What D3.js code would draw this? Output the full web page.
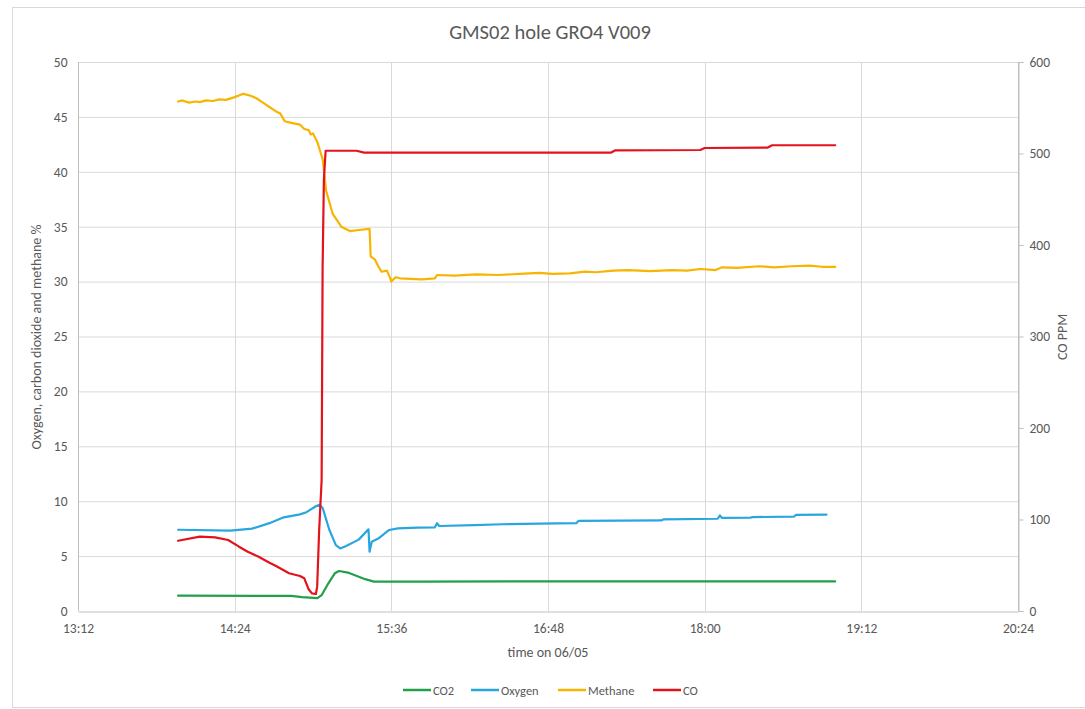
<!DOCTYPE html>
<html><head><meta charset="utf-8">
<script src="https://cdn.jsdelivr.net/npm/d3@7"></script>
<style>
body{margin:0;background:#fff;}
svg{display:block;}
text{font-family:Carlito,"Liberation Sans Narrow","Liberation Sans",sans-serif;fill:#595959;}
</style></head><body>
<svg id="chart" width="1085" height="709"></svg>
<script>
const titleText = "GMS02 hole GRO4 V009";
const xTickLabels = ["13:12","14:24","15:36","16:48","18:00","19:12","20:24"];
const leftTicks = [0,5,10,15,20,25,30,35,40,45,50];
const rightTicks = [0,100,200,300,400,500,600];
const seriesNames = ["CO2","Oxygen","Methane","CO"];
const seriesColors = ["#21a04a","#2aa6df","#f7b500","#e3131b"];

const co2 = [["13:58:00",1.4],["14:50:00",1.38],["14:55:00",1.27],["15:02:00",1.18],["15:04:00",1.45],["15:07:00",2.5],["15:10:00",3.43],["15:12:00",3.64],["15:16:00",3.5],["15:24:00",2.9],["15:28:00",2.68],["15:50:00",2.68],["16:50:00",2.7],["18:00:00",2.7],["19:00:00",2.7]];

const oxygen = [["13:58:00",7.4],["14:22:00",7.32],["14:32:00",7.5],["14:40:00",8.0],["14:46:00",8.5],["14:54:00",8.8],["14:57:00",9.0],["15:01:30",9.56],["15:03:00",9.68],["15:04:30",9.35],["15:07:30",7.4],["15:10:30",6.0],["15:12:30",5.7],["15:15:00",5.9],["15:21:00",6.5],["15:25:30",7.44],["15:26:00",5.4],["15:27:00",6.3],["15:30:00",6.6],["15:35:00",7.38],["15:39:00",7.53],["15:48:00",7.6],["15:56:00",7.62],["15:57:00",7.99],["15:58:00",7.74],["16:14:00",7.83],["16:27:00",7.9],["16:44:00",7.95],["17:01:00",8.0],["17:02:00",8.2],["17:40:00",8.25],["17:41:00",8.34],["18:06:00",8.4],["18:07:00",8.7],["18:08:00",8.48],["18:21:00",8.5],["18:22:00",8.55],["18:41:00",8.6],["18:42:00",8.75],["18:56:00",8.78]];

const methane = [["13:58:00",46.4],["14:00:00",46.5],["14:03:00",46.3],["14:06:00",46.4],["14:08:00",46.35],["14:11:00",46.5],["14:14:00",46.45],["14:17:00",46.6],["14:20:00",46.55],["14:24:00",46.8],["14:28:00",47.1],["14:31:00",46.95],["14:34:00",46.7],["14:37:00",46.3],["14:40:00",45.9],["14:43:00",45.5],["14:45:00",45.3],["14:47:00",44.6],["14:50:00",44.45],["14:54:00",44.3],["14:56:00",43.9],["14:58:00",43.8],["14:59:00",43.4],["15:00:00",43.5],["15:02:00",42.7],["15:04:30",41.1],["15:06:00",38.3],["15:09:00",36.2],["15:13:00",35.0],["15:17:00",34.6],["15:21:00",34.7],["15:26:00",34.8],["15:26:30",32.3],["15:28:30",32.0],["15:30:00",31.4],["15:31:30",30.9],["15:34:00",31.0],["15:35:30",30.3],["15:36:00",30.0],["15:38:00",30.4],["15:40:00",30.3],["15:45:00",30.25],["15:50:00",30.2],["15:56:00",30.3],["15:57:00",30.6],["16:05:00",30.55],["16:15:00",30.65],["16:25:00",30.6],["16:35:00",30.7],["16:44:00",30.8],["16:50:00",30.7],["16:58:00",30.75],["17:05:00",30.9],["17:10:00",30.85],["17:18:00",31.0],["17:25:00",31.05],["17:35:00",30.95],["17:45:00",31.05],["17:52:00",31.0],["17:58:00",31.15],["18:05:00",31.05],["18:08:00",31.3],["18:15:00",31.25],["18:25:00",31.4],["18:32:00",31.3],["18:40:00",31.4],["18:48:00",31.45],["18:54:00",31.35],["19:00:00",31.35]];

const co = [["13:58:00",76.8],["14:08:00",81.2],["14:15:00",80.5],["14:21:00",77.6],["14:26:00",70.3],["14:30:00",64.8],["14:35:00",59.3],["14:40:00",52.8],["14:43:00",49.2],["14:49:00",41.2],["14:54:00",38.3],["14:56:00",35.7],["14:58:00",23.7],["14:59:30",19.3],["15:01:20",18.6],["15:01:55",26.6],["15:02:50",88.5],["15:03:58",143],["15:04:25",376],["15:05:00",471],["15:05:48",503],["15:20:00",503],["15:23:30",501],["17:17:00",501],["17:19:00",503.5],["17:58:00",503.8],["18:00:00",506],["18:29:00",506.5],["18:31:00",509],["19:00:00",509]];

const svg = d3.select("#chart");
const parse = d3.timeParse("%H:%M:%S");
const parseHM = d3.timeParse("%H:%M");

const x = d3.scaleTime().domain([parseHM("13:12"), parseHM("20:24")]).range([78, 1018]);
const yL = d3.scaleLinear().domain([0,50]).range([611,62]);
const yR = d3.scaleLinear().domain([0,600]).range([611,62]);

// chart border
svg.append("rect").attr("x",12.5).attr("y",7.5).attr("width",1085).attr("height",700)
  .attr("fill","none").attr("stroke","#d9d9d9");

// gridlines horizontal
svg.append("g").selectAll("line").data(leftTicks.slice(1)).join("line")
  .attr("x1",78).attr("x2",1018).attr("y1",d=>yL(d)+0.5).attr("y2",d=>yL(d)+0.5)
  .attr("stroke","#d9d9d9");
// gridlines vertical
svg.append("g").selectAll("line").data(xTickLabels).join("line")
  .attr("x1",d=>Math.round(x(parseHM(d)))+0.5).attr("x2",d=>Math.round(x(parseHM(d)))+0.5)
  .attr("y1",62).attr("y2",611).attr("stroke",(d,i)=> (i===0||i===xTickLabels.length-1)?"#bfbfbf":"#d9d9d9");

// x axis
const xAxis = d3.axisBottom(x).tickValues(xTickLabels.map(parseHM)).tickFormat(d3.timeFormat("%H:%M")).tickSize(0).tickPadding(12);
const gx = svg.append("g").attr("transform","translate(0,611.5)").call(xAxis);
gx.select(".domain").attr("stroke","#bfbfbf");
gx.selectAll("text").attr("font-size","13.5px").style("fill","#595959");

// left axis
const gl = svg.append("g").attr("transform","translate(78.5,0)")
  .call(d3.axisLeft(yL).tickValues(leftTicks).tickSize(0).tickPadding(11));
gl.select(".domain").remove();
gl.selectAll("text").attr("font-size","13.5px").style("fill","#595959");

// right axis
const gr = svg.append("g").attr("transform","translate(1018.5,0)")
  .call(d3.axisRight(yR).tickValues(rightTicks).tickSize(5).tickPadding(6));
gr.select(".domain").attr("stroke","#bfbfbf");
gr.selectAll(".tick line").attr("stroke","#bfbfbf");
gr.selectAll("text").attr("font-size","13.5px").style("fill","#595959");

// title
svg.append("text").attr("x",550).attr("y",39).attr("text-anchor","middle")
  .attr("font-size","20.5px").text(titleText);
// axis titles
svg.append("text").attr("transform","translate(41,337) rotate(-90)").attr("text-anchor","middle")
  .attr("font-size","14px").text("Oxygen, carbon dioxide and methane %");
svg.append("text").attr("transform","translate(1067,337) rotate(-90)").attr("text-anchor","middle")
  .attr("font-size","14px").text("CO PPM");
svg.append("text").attr("x",548).attr("y",657).attr("text-anchor","middle")
  .attr("font-size","14px").text("time on 06/05");

// lines
const lineL = d3.line().x(d=>x(parse(d[0]))).y(d=>yL(d[1]));
const lineR = d3.line().x(d=>x(parse(d[0]))).y(d=>yR(d[1]));
const data = [co2, oxygen, methane, co];
data.forEach((s,i)=>{
  svg.append("path").datum(s).attr("fill","none").attr("stroke",seriesColors[i])
    .attr("stroke-width",2.2).attr("stroke-linejoin","round").attr("stroke-linecap","round")
    .attr("d", i===3 ? lineR : lineL);
});

// legend
const legendX = [403,471,558,653];
const lg = svg.append("g");
seriesNames.forEach((n,i)=>{
  lg.append("line").attr("x1",legendX[i]).attr("x2",legendX[i]+28).attr("y1",690).attr("y2",690)
    .attr("stroke",seriesColors[i]).attr("stroke-width",2.5);
  lg.append("text").attr("x",legendX[i]+30).attr("y",694.5).attr("font-size","12.5px").text(n);
});
</script></body></html>
